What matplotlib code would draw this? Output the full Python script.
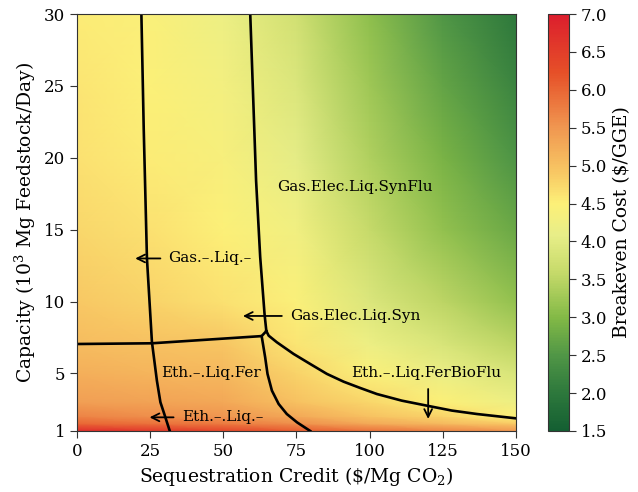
import matplotlib
matplotlib.use('Agg')
import matplotlib.pyplot as plt
import numpy as np
from matplotlib.colors import LinearSegmentedColormap

plt.rcParams['font.family'] = 'DejaVu Serif'
plt.rcParams['mathtext.fontset'] = 'dejavuserif'

# breakeven cost ($/GGE)
credit = [0, 25, 50, 75, 100, 125, 150]
capacity = [1, 1.5, 2, 3, 5, 7, 10, 15, 20, 25, 30]
cost = np.array([
    # x=0   25    50    75    100   125   150
    [6.80, 6.60, 6.40, 6.10, 5.90, 5.70, 5.50],   # y=1
    [6.00, 5.90, 5.80, 5.60, 5.30, 5.10, 4.90],   # y=1.5
    [5.70, 5.60, 5.50, 5.30, 5.00, 4.80, 4.50],   # y=2
    [5.40, 5.35, 5.30, 5.00, 4.75, 4.50, 4.20],   # y=3
    [5.20, 5.15, 5.10, 4.80, 4.45, 4.15, 3.85],   # y=5
    [5.05, 5.00, 4.95, 4.60, 4.20, 3.85, 3.50],   # y=7
    [4.90, 4.80, 4.65, 4.45, 3.90, 3.50, 3.15],   # y=10
    [4.75, 4.65, 4.50, 4.25, 3.60, 3.15, 2.75],   # y=15
    [4.65, 4.55, 4.40, 4.05, 3.40, 2.90, 2.45],   # y=20
    [4.60, 4.50, 4.30, 3.90, 3.25, 2.70, 2.20],   # y=25
    [4.55, 4.45, 4.20, 3.75, 3.10, 2.50, 2.00],   # y=30
])

# region boundaries
b1_x = [22.0, 22.8, 23.9, 25.6, 27.3, 28.5, 29.8, 31.7]
b1_y = [30, 22, 13, 7.2, 4.5, 3.0, 2.2, 1.0]
b2_x = [59.2, 61.2, 62.6, 64.1, 64.7]
b2_y = [30, 18.4, 13.1, 9.1, 7.95]
b3_x = [0, 25.6, 63.1, 64.7]
b3_y = [7.05, 7.1, 7.6, 7.95]
b4_x = [63.1, 64.3, 65.1, 66.6, 68.9, 71.7, 75.2, 79.7]
b4_y = [7.6, 6.12, 4.97, 3.81, 2.88, 2.18, 1.6, 1.0]
b5_x = [64.7, 65.5, 68.3, 74.0, 79.7, 85.4, 91.1, 96.8, 102.5, 111.0, 119.6, 128.1, 136.7, 150]
b5_y = [7.95, 7.63, 7.17, 6.36, 5.66, 4.97, 4.43, 3.99, 3.57, 3.11, 2.76, 2.42, 2.18, 1.88]

cmap = LinearSegmentedColormap.from_list('cost', [
    (0.00, '#145f32'), (0.09, '#2d783c'), (0.18, '#509646'),
    (0.27, '#82b946'), (0.38, '#c6da6a'), (0.47, '#e8ee88'),
    (0.545, '#fcf078'), (0.62, '#f8c864'), (0.73, '#f09650'),
    (0.86, '#e65028'), (1.00, '#dc1e2d')])

fig = plt.figure(figsize=(6.38, 4.92), dpi=100)
ax = fig.add_axes([0.1207, 0.124, 0.688, 0.8475])
cax = fig.add_axes([0.859, 0.124, 0.033, 0.8475])

X, Y = np.meshgrid(credit, capacity)
pm = ax.pcolormesh(X, Y, cost, shading='gouraud', cmap=cmap, vmin=1.5, vmax=7.0)

for bx, by in [(b1_x, b1_y), (b2_x, b2_y), (b3_x, b3_y), (b4_x, b4_y), (b5_x, b5_y)]:
    ax.plot(bx, by, color='black', lw=1.9, solid_joinstyle='round')

ap = dict(arrowstyle='->', lw=1.3, color='black', shrinkA=0, shrinkB=0, mutation_scale=14)
fs = 11
ax.text(68.3, 18.0, 'Gas.Elec.Liq.SynFlu', fontsize=fs, va='center', ha='left')
ax.annotate('', xy=(19.9, 13.0), xytext=(28.5, 13.0), arrowprops=ap)
ax.text(31.3, 13.0, 'Gas.–.Liq.–', fontsize=fs, va='center', ha='left')
ax.annotate('', xy=(56.7, 9.0), xytext=(70.0, 9.0), arrowprops=ap)
ax.text(72.9, 9.0, 'Gas.Elec.Liq.Syn', fontsize=fs, va='center', ha='left')
ax.text(28.7, 5.03, 'Eth.–.Liq.Fer', fontsize=fs, va='center', ha='left')
ax.annotate('', xy=(24.8, 1.95), xytext=(33.0, 1.95), arrowprops=ap)
ax.text(35.9, 1.95, 'Eth.–.Liq.–', fontsize=fs, va='center', ha='left')
ax.text(93.6, 5.03, 'Eth.–.Liq.FerBioFlu', fontsize=fs, va='center', ha='left')
ax.annotate('', xy=(120, 1.84), xytext=(120, 3.92), arrowprops=ap)

ax.set_xlim(0, 150)
ax.set_ylim(1, 30)
ax.set_xticks([0, 25, 50, 75, 100, 125, 150])
ax.set_yticks([1, 5, 10, 15, 20, 25, 30])
ax.tick_params(labelsize=12, length=5, color='#333333')
for s in ax.spines.values():
    s.set_color('#333333')
ax.set_xlabel(r'Sequestration Credit (\$/Mg CO$_2$)', fontsize=13.5)
ax.set_ylabel(r'Capacity (10$^3$ Mg Feedstock/Day)', fontsize=13.5)

cb = fig.colorbar(pm, cax=cax, ticks=np.arange(1.5, 7.01, 0.5), format='%.1f')
cb.ax.tick_params(labelsize=12, length=5, color='#333333')
cb.outline.set_edgecolor('#333333')
cb.set_label(r'Breakeven Cost (\$/GGE)', fontsize=13.5)

fig.savefig('out.png', dpi=100)
